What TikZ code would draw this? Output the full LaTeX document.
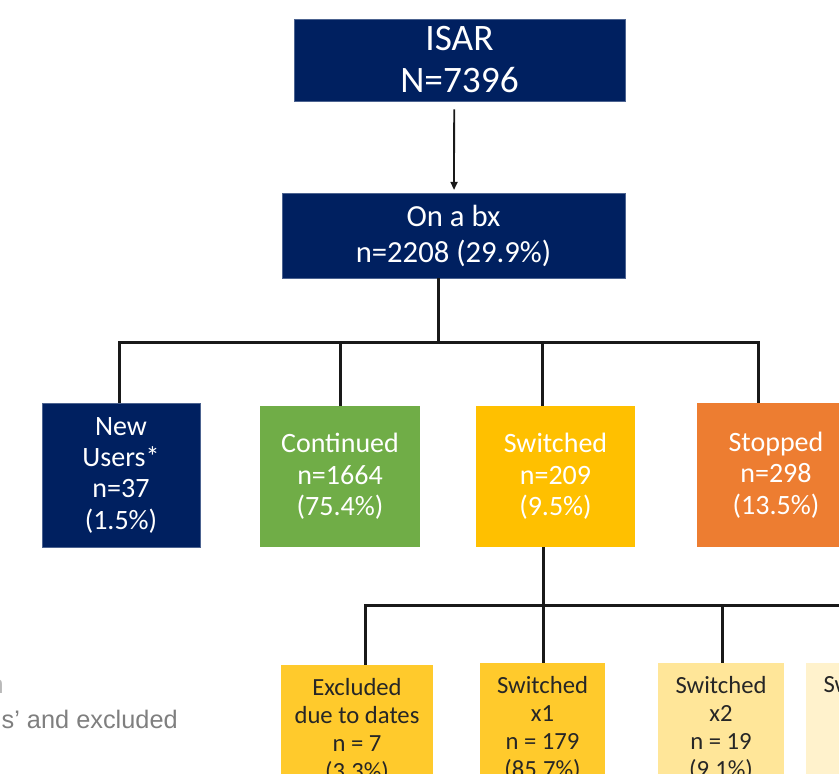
\documentclass[tikz,border=0pt]{standalone}
\usepackage{fontspec}
\setmainfont{Carlito}
\newfontfamily\notefont{Liberation Sans}
\usetikzlibrary{arrows.meta}
\usepackage{xcolor}
\newlength\pxu
\setlength\pxu{0.75pt}
\definecolor{isarnavy}{HTML}{002060}
\definecolor{contgreen}{HTML}{70AD47}
\definecolor{switgold}{HTML}{FFC000}
\definecolor{stoporange}{HTML}{ED7D31}
\definecolor{subgold}{HTML}{FFCA2C}
\definecolor{subpale}{HTML}{FFE699}
\definecolor{subcream}{HTML}{FFF2CC}
\definecolor{notegrey}{HTML}{7F7F7F}

\begin{document}
\begin{tikzpicture}[x=0.75pt,y=-0.75pt,
  every node/.style={align=center,inner sep=0pt},
  headbox/.style={fill=isarnavy,text=white,draw=isarnavy!70!white,line width=0.6pt},
  groupbox/.style={minimum width=158\pxu,minimum height=142\pxu,text=white,font=\fontsize{21}{23.5}\selectfont},
  subbox/.style={minimum width=126\pxu,minimum height=132\pxu,text=black!85,font=\fontsize{18.5}{21}\selectfont},
  treeline/.style={line width=3\pxu,black!90},
  flowarrow/.style={line width=1.8\pxu,black!90,-{Triangle[length=6pt,width=5.2pt]}}]
  \useasboundingbox (0,0) rectangle (839,774);
  \clip (0,0) rectangle (839,774);
  % top of the tree
  \node[headbox,minimum width=331\pxu,minimum height=82\pxu,font=\fontsize{28}{31.5}\selectfont] (isar) at (459.5,60){ISAR\\N=7396};
  \node[headbox,minimum width=343\pxu,minimum height=85\pxu,font=\fontsize{23}{27}\selectfont] (bx) at (453.5,235.5){On a bx\\n=2208 (29.9\%)};
  \draw[flowarrow] ([xshift=-4pt,yshift=-6pt]isar.south) -- ([xshift=0.4pt,yshift=2pt]bx.north);
  % treatment groups
  \node[groupbox,fill=isarnavy,draw=isarnavy!70!white,line width=0.6pt,minimum height=144\pxu] (newu) at (121,475){New\\Users*\\n=37\\(1.5\%)};
  \node[groupbox,fill=contgreen,minimum width=160\pxu,minimum height=141\pxu] (cont) at (340,476.5){Continued\\n=1664\\(75.4\%)};
  \node[groupbox,fill=switgold,minimum width=159\pxu,minimum height=141\pxu] (swit) at (555.5,476.5){Switched\\n=209\\(9.5\%)};
  \node[groupbox,fill=stoporange,minimum height=144\pxu] (stop) at (776,475){Stopped\\n=298\\(13.5\%)};
  \coordinate (bus1) at (438,342);
  \draw[treeline] (bx.south -| bus1) -- (bus1);
  \draw[treeline] ([xshift=-1.5pt]newu.north) |- (bus1) -| ([xshift=-13.5pt]stop.north);
  \draw[treeline] (cont.north) |- (bus1);
  \draw[treeline] ([xshift=-9.4pt]swit.north) |- (bus1);
  % switching subgroups
  \node[subbox,fill=subgold,minimum width=152\pxu] (excl) at (357,731){Excluded\\due to dates\\n = 7\\(3.3\%)};
  \node[subbox,fill=subgold,minimum width=125\pxu] (swone) at (542.5,729){Switched\\x1\\n = 179\\(85.7\%)};
  \node[subbox,fill=subpale] (swtwo) at (721,729){Switched\\x2\\n = 19\\(9.1\%)};
  \node[subbox,fill=subcream,text depth=67pt] (swthree) at (869,729){Switched};
  \coordinate (bus2) at (543,605);
  \draw[treeline] (swit.south -| bus2) -- (bus2);
  \draw[treeline] ([xshift=6pt]excl.north) |- (bus2) -| (swthree.north);
  \draw[treeline] (swone.north -| bus2) -- (bus2);
  \draw[treeline] ([xshift=0.8pt]swtwo.north) |- (bus2);
  % footnote, cut at the left edge
  \node[anchor=base east,font=\notefont\fontsize{19}{22}\selectfont,text=notegrey!55] (notea) at (4,693){n};
  \node[anchor=base east,font=\notefont\fontsize{19}{22}\selectfont,text=notegrey] (noteb) at (178,728){s’ and excluded};
\end{tikzpicture}
\end{document}
